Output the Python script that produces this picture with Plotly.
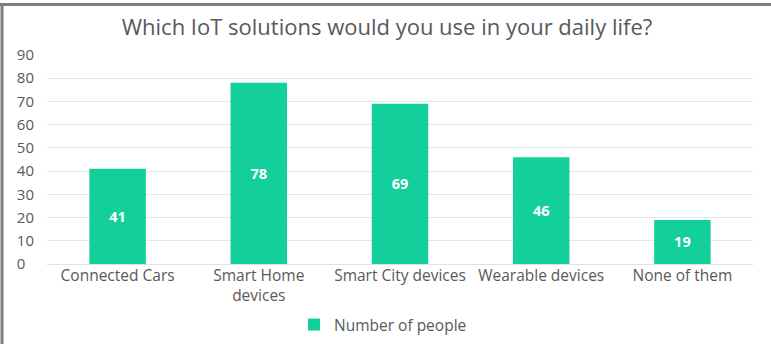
import plotly.graph_objects as go

categories = ["Connected Cars", "Smart Home<br>devices", "Smart City devices",
              "Wearable devices", "None of them"]
people = [41, 78, 69, 46, 19]
y_ticks = [0, 10, 20, 30, 40, 50, 60, 70, 80, 90]

W, H = 771, 344
ML, MR, MT, MB = 47, 18, 55, 80
PW, PH = W - ML - MR, H - MT - MB

def px_x(x):
    return (x - ML) / PW

def px_y(y):
    return (H - MB - y) / PH

# pad single-digit labels with a figure space so the digits line up on the left
y_ticktext = [f"{v}".ljust(2, "\u2007") for v in y_ticks]

TXT = "#595959"

fig = go.Figure()
fig.add_trace(go.Bar(
    x=categories, y=people, name="Number of people",
    marker=dict(color="#13CF9B", line=dict(width=0)),
    text=[str(v) for v in people], textposition="inside",
    insidetextanchor="middle",
    textfont=dict(color="white", size=14.5, family="Open Sans"),
    texttemplate="<b>%{text}</b>",
    showlegend=True,
))

# frame around the chart (top and left edges)
frame = "#7f7f7f"
fig.add_shape(type="line", xref="paper", yref="paper",
              x0=px_x(0), x1=px_x(W), y0=px_y(4.5), y1=px_y(4.5),
              line=dict(color=frame, width=3))
fig.add_shape(type="line", xref="paper", yref="paper",
              x0=px_x(2), x1=px_x(2), y0=px_y(3), y1=px_y(H),
              line=dict(color=frame, width=3))

fig.update_layout(
    width=W, height=H,
    margin=dict(l=ML, r=MR, t=MT, b=MB, autoexpand=False),
    paper_bgcolor="white", plot_bgcolor="white",
    title=dict(text="Which IoT solutions would you use in your daily life?",
               x=387 / W, xref="container", xanchor="center",
               y=1 - 27 / H, yref="container", yanchor="middle",
               font=dict(family="Open Sans", size=22, color=TXT)),
    bargap=0.6,
    font=dict(family="Open Sans", color=TXT, size=15),
    xaxis=dict(showgrid=False, showline=False, ticks="", automargin=False,
               tickfont=dict(size=15.5, color=TXT)),
    yaxis=dict(range=[0, 90], tickvals=y_ticks, ticktext=y_ticktext,
               showgrid=True, gridcolor="#e6e6e6", gridwidth=1,
               zeroline=True, zerolinecolor="#e0e0e0", zerolinewidth=1,
               showline=False, ticks="", automargin=False,
               ticklabelstandoff=12,
               tickfont=dict(size=15, color=TXT)),
    legend=dict(orientation="h", xref="container", yref="container",
                x=294 / W, xanchor="left",
                y=1 - 325 / H, yanchor="middle",
                font=dict(size=15.5, color=TXT),
                itemwidth=30),
    uniformtext=dict(minsize=8, mode="show"),
)

fig.write_html("out.html")
